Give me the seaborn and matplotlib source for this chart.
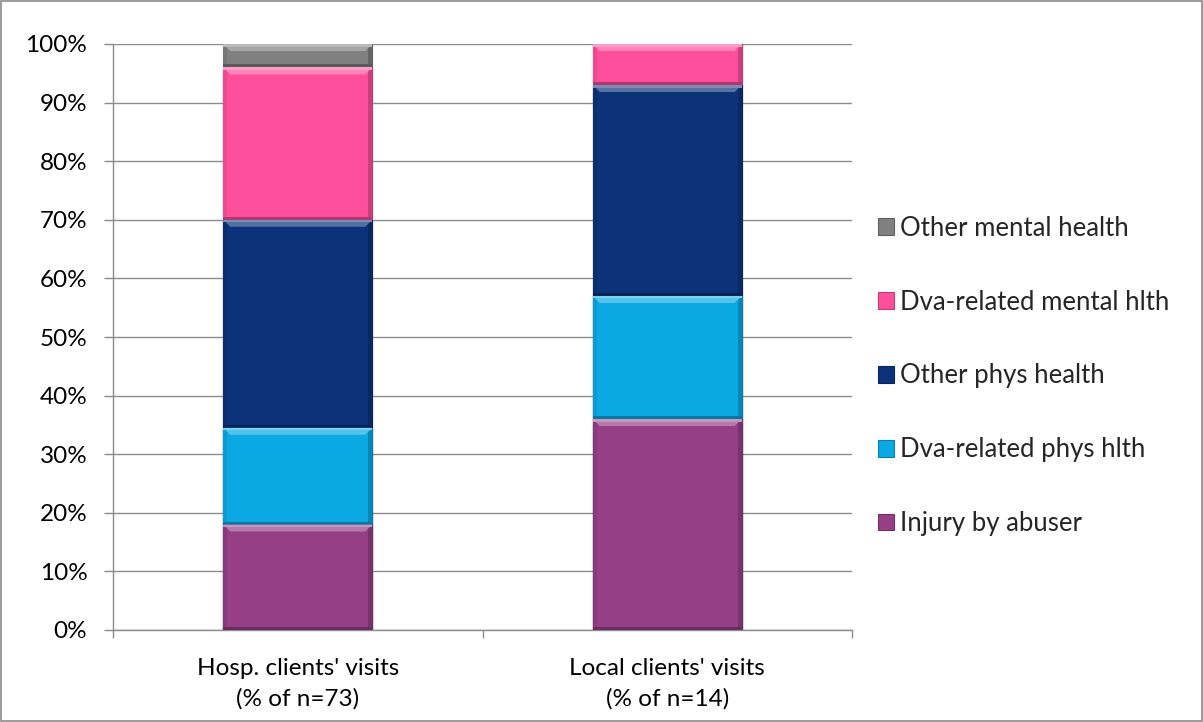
import numpy as np
import pandas as pd
import matplotlib
matplotlib.use("Agg")
import matplotlib.pyplot as plt
import matplotlib.colors as mcolors
from matplotlib.patches import Polygon, Rectangle
from matplotlib.ticker import FuncFormatter, FixedLocator
import seaborn as sns

# Visit groups and health-issue categories (percent of visits)
groups = ["Hosp. clients' visits\n(% of n=73)", "Local clients' visits\n(% of n=14)"]
categories = ["Injury by abuser", "Dva-related phys hlth", "Other phys health",
              "Dva-related mental hlth", "Other mental health"]
hosp = [18.0, 16.5, 35.5, 26.0, 4.0]
local = [36.0, 21.0, 36.0, 7.0, 0.0]
colors = ["#963F87", "#0AA9E4", "#0C3279", "#FF4F9C", "#808080"]
yticks = list(range(0, 101, 10))

sns.set_theme(style="white")
plt.rcParams["font.family"] = ["Lato", "DejaVu Sans"]

df = pd.DataFrame({
    "group": np.repeat(groups, len(categories)),
    "category": categories * 2,
    "value": hosp + local,
})
df["top"] = df.groupby("group")["value"].cumsum()
df["base"] = df["top"] - df["value"]

W, H = 1203, 722
fig = plt.figure(figsize=(W / 100, H / 100), dpi=100)
ax = fig.add_axes([113 / W, 1 - 630 / H, (852 - 113) / W, (630 - 44) / H])

grid_col = "#8C8C8C"
ax.set_ylim(0, 100)
ax.yaxis.set_major_locator(FixedLocator(yticks))
ax.grid(axis="y", color=grid_col, linewidth=1)
ax.set_axisbelow(True)

# Stacked bars: draw cumulative totals from the top category down
seg_patches = {}
for cat, col in reversed(list(zip(categories, colors))):
    sub = df[df["category"] == cat]
    n0 = len(ax.patches)
    sns.barplot(data=sub, x="group", y="top", order=groups, color=col,
                width=0.403, saturation=1, linewidth=0.8,
                edgecolor=mcolors.to_hex(np.array(mcolors.to_rgb(col)) * 0.75),
                label=cat, ax=ax, zorder=2)
    seg_patches[cat] = list(ax.patches[n0:])

# Bevel shading on each visible segment
px_x = (852 - 113) / 2.0      # pixels per x unit
px_y = (630 - 44) / 100.0     # pixels per y unit


def mix(c, other, t):
    c = np.array(mcolors.to_rgb(c))
    o = np.array(mcolors.to_rgb(other))
    return tuple(c * (1 - t) + o * t)


for cat, col in zip(categories, colors):
    sub = df[df["category"] == cat].set_index("group")
    for g, p in zip(groups, seg_patches[cat]):
        val = sub.loc[g, "value"]
        if val <= 0:
            continue
        x0 = p.get_x()
        x1 = x0 + p.get_width()
        top = p.get_height()
        base = sub.loc[g, "base"]
        dx = 7 / px_x
        dy = min(7 / px_y, (top - base) / 3)
        sx = 4 / px_x
        # left and right edges
        ax.add_patch(Rectangle((x0, base), sx, top - base, facecolor=mix(col, "black", 0.08),
                               linewidth=0, zorder=3))
        ax.add_patch(Rectangle((x1 - sx, base), sx, top - base, facecolor=mix(col, "black", 0.2),
                               linewidth=0, zorder=3))
        # bottom edge
        ax.add_patch(Rectangle((x0, base), x1 - x0, 3 / px_y, facecolor=mix(col, "black", 0.3),
                               linewidth=0, zorder=3))
        # top highlight
        ax.add_patch(Polygon([(x0, top), (x1, top), (x1 - dx, top - dy), (x0 + dx, top - dy)],
                             closed=True, facecolor=mix(col, "white", 0.3), linewidth=0, zorder=4))
        ax.add_patch(Polygon([(x0, top), (x1, top), (x1, top - 2.5 / px_y), (x0, top - 2.5 / px_y)],
                             closed=True, facecolor=mix(col, "white", 0.45), linewidth=0, zorder=4))

ax.set_xlim(-0.5, 1.5)
ax.set_xlabel("")
ax.set_ylabel("")
ax.yaxis.set_major_formatter(FuncFormatter(lambda v, _: f"{v:.0f}%"))

for s in ["top", "right"]:
    ax.spines[s].set_visible(False)
for s in ["left", "bottom"]:
    ax.spines[s].set_color(grid_col)
    ax.spines[s].set_linewidth(1)

ax.tick_params(axis="y", which="major", left=True, length=6.5, width=1, color=grid_col,
               labelsize=17.5, pad=12, labelcolor="black")
ax.tick_params(axis="x", which="major", bottom=False, labelsize=17.5, pad=14, labelcolor="black")
ax.set_xticks([-0.5, 0.5, 1.5], minor=True)
ax.tick_params(axis="x", which="minor", bottom=True, length=6, width=1, color=grid_col)
for lbl in ax.get_xticklabels():
    lbl.set_linespacing(1.55)

# Legend on the right, top category first
handles, labels = ax.get_legend_handles_labels()
ax.legend(handles, labels, loc="center left", bbox_to_anchor=(878 / W, 1 - 376 / H),
          bbox_transform=fig.transFigure, frameon=False, fontsize=18.5,
          handlelength=0.62, handleheight=0.62, handletextpad=0.25,
          labelspacing=1.9, borderpad=0, borderaxespad=0)

# Outer chart border
fig.add_artist(Rectangle((0.6 / W, 0.6 / H), 1 - 1.8 / W, 1 - 1.8 / H, transform=fig.transFigure,
                         fill=False, edgecolor="#8A8A8A", linewidth=1.2))

fig.savefig("out.png", dpi=100)
